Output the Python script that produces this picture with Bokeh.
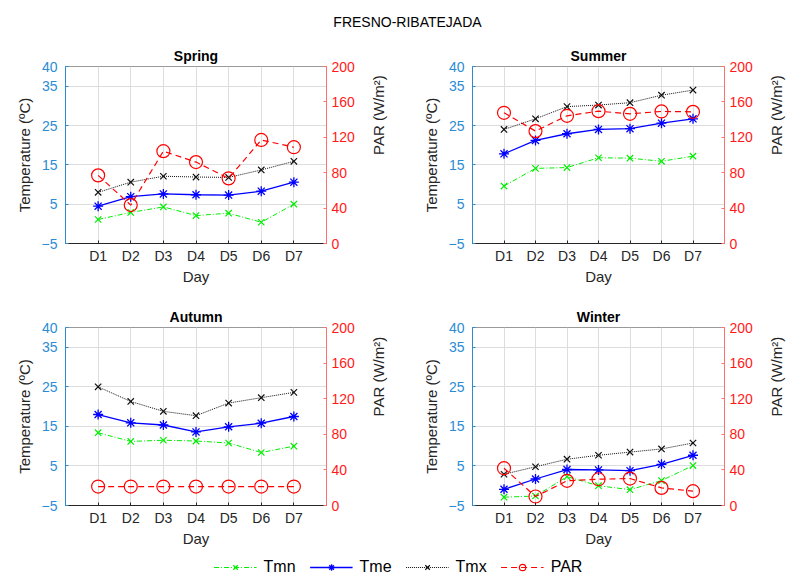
import math
from bokeh.plotting import figure
from bokeh.models import (Range1d, LinearAxis, FixedTicker, Legend, LegendItem, ColumnDataSource, Label)
from bokeh.layouts import column, row
from bokeh.embed import file_html
from bokeh.resources import INLINE

days = ["D1", "D2", "D3", "D4", "D5", "D6", "D7"]
xpos = [1, 2, 3, 4, 5, 6, 7]
seasons = ["Spring", "Summer", "Autumn", "Winter"]

tmn = {
    "Spring": [1.1, 2.9, 4.3, 2.1, 2.7, 0.4, 5.0],
    "Summer": [9.6, 14.1, 14.3, 16.8, 16.7, 15.9, 17.2],
    "Autumn": [13.4, 11.2, 11.5, 11.3, 10.8, 8.4, 10.0],
    "Winter": [-2.9, -2.6, 2.3, 0.0, -1.0, 1.3, 5.1],
}
tme = {
    "Spring": [4.5, 6.9, 7.6, 7.4, 7.3, 8.3, 10.6],
    "Summer": [17.8, 21.2, 22.9, 24.0, 24.2, 25.6, 26.7],
    "Autumn": [18.0, 15.9, 15.35, 13.6, 14.9, 15.8, 17.5],
    "Winter": [-0.9, 1.7, 4.1, 4.0, 3.8, 5.4, 7.7],
}
tmx = {
    "Spring": [8.0, 10.6, 12.1, 11.9, 11.8, 13.7, 15.9],
    "Summer": [24.0, 26.7, 29.8, 30.2, 30.8, 32.7, 34.0],
    "Autumn": [25.0, 21.3, 18.8, 17.7, 20.9, 22.25, 23.6],
    "Winter": [2.9, 4.8, 6.7, 7.7, 8.5, 9.3, 10.8],
}
par = {
    "Spring": [77, 43.4, 104.3, 92, 73.6, 117, 108.8],
    "Summer": [147.7, 127, 144.3, 149.5, 146.5, 149.2, 148.8],
    "Autumn": [21.3, 21.3, 21.3, 21.3, 21.3, 21.3, 21.3],
    "Winter": [41.9, 10.1, 27.7, 29.5, 30.3, 19.8, 16.1],
}
temp_ticks = [-5, 5, 15, 25, 35, 40]
par_ticks = [0, 40, 80, 120, 160, 200]
main_title = "FRESNO-RIBATEJADA"
legend_labels = ["Tmn", "Tme", "Tmx", "PAR"]

FONT = "Liberation Sans"
BLUE_AX = "#2b8cd4"
RED_AX = "#ff1a1a"
GREEN = "#00ee00"
BLUE = "#0000ff"
BLACK = "#111111"
RED = "#ff0000"

# layout geometry (left border, frame width, right border, top border, bottom border, height)
geo = {
    "Spring": (65, 265, 68, 22, 57, 257),
    "Summer": (74, 263, 61, 22, 57, 257),
    "Autumn": (65, 265, 68, 27, 45, 250),
    "Winter": (74, 263, 61, 27, 45, 250),
}

styles = {
    "tmn": dict(line=dict(line_color=GREEN, line_width=1, line_dash="5 2 1 2"),
                mark=dict(marker="x", size=9, line_color=GREEN, line_width=1.2)),
    "tme": dict(line=dict(line_color=BLUE, line_width=1.3),
                mark=dict(marker="asterisk", size=10, line_color=BLUE, line_width=1.3)),
    "tmx": dict(line=dict(line_color=BLACK, line_width=1, line_dash="1 1"),
                mark=dict(marker="x", size=9, line_color=BLACK, line_width=1.2)),
    "par": dict(line=dict(line_color=RED, line_width=1.2, line_dash="6 4"),
                mark=dict(marker="circle", size=13, line_color=RED, fill_color=None, line_width=1.2)),
}


def make_fig(s):
    lb, fw, rb, tb, bb, h = geo[s]
    p = figure(width=lb + fw + rb, height=h, output_backend="svg", toolbar_location=None,
               x_range=Range1d(0, 8), y_range=Range1d(-5, 40),
               min_border_left=lb, min_border_right=rb, min_border_top=tb, min_border_bottom=bb,
               title=s)
    p.title.align = "center"
    p.title.text_font = FONT
    p.title.text_font_size = "14px"
    p.title.text_font_style = "bold"
    p.title.text_color = "#000000"
    p.title.standoff = 5
    p.outline_line_color = "#999999"
    p.outline_line_width = 1
    p.extra_y_ranges = {"par": Range1d(0, 200)}

    # x axis
    xa = p.xaxis[0]
    xa.ticker = FixedTicker(ticks=xpos)
    xa.major_label_overrides = {i: d for i, d in zip(xpos, days)}
    xa.axis_label = "Day"
    xa.axis_label_text_font = FONT
    xa.axis_label_text_font_size = "15px"
    xa.axis_label_text_font_style = "normal"
    xa.axis_label_text_color = "#262626"
    xa.axis_label_standoff = 1
    xa.major_label_text_font = FONT
    xa.major_label_text_font_size = "14px"
    xa.major_label_text_color = "#262626"
    xa.major_label_standoff = 4
    xa.axis_line_color = "#262626"
    xa.major_tick_line_color = "#262626"
    xa.major_tick_in = 3
    xa.major_tick_out = 0
    xa.minor_tick_line_color = None

    # left y axis
    ya = p.yaxis[0]
    ya.ticker = FixedTicker(ticks=temp_ticks)
    ya.major_label_overrides = {-5: "\u22125"}
    ya.axis_label = "Temperature (\u00baC)"
    ya.axis_label_text_font = FONT
    ya.axis_label_text_font_size = "15px"
    ya.axis_label_text_font_style = "normal"
    ya.axis_label_text_color = "#262626"
    ya.axis_label_standoff = 6
    ya.major_label_text_font = FONT
    ya.major_label_text_font_size = "14px"
    ya.major_label_text_color = BLUE_AX
    ya.major_label_standoff = 8
    ya.axis_line_color = BLUE_AX
    ya.major_tick_line_color = BLUE_AX
    ya.major_tick_in = 3
    ya.major_tick_out = 0
    ya.minor_tick_line_color = None

    # right y axis
    ra = LinearAxis(y_range_name="par", ticker=FixedTicker(ticks=par_ticks))
    ra.axis_label = "PAR (W/m\u00b2)"
    ra.axis_label_orientation = math.pi / 2
    ra.axis_label_text_font = FONT
    ra.axis_label_text_font_size = "15px"
    ra.axis_label_text_font_style = "normal"
    ra.axis_label_text_color = "#262626"
    ra.axis_label_standoff = 21
    ra.major_label_text_font = FONT
    ra.major_label_text_font_size = "14px"
    ra.major_label_text_color = RED_AX
    ra.major_label_standoff = 5
    ra.axis_line_color = "#ff7070"
    ra.major_tick_line_color = "#ff7070"
    ra.major_tick_in = 3
    ra.major_tick_out = 0
    ra.minor_tick_line_color = None
    p.add_layout(ra, "right")

    p.xgrid.ticker = FixedTicker(ticks=xpos)
    p.ygrid.ticker = FixedTicker(ticks=temp_ticks)
    for g in (p.xgrid[0], p.ygrid[0]):
        g.grid_line_color = "#dddddd"
        g.grid_line_width = 1

    src = ColumnDataSource(dict(x=xpos, tmn=tmn[s], tme=tme[s], tmx=tmx[s], par=par[s]))
    for key in ["tmn", "tme", "tmx"]:
        p.line("x", key, source=src, **styles[key]["line"])
        p.scatter("x", key, source=src, **styles[key]["mark"])
    p.line("x", "par", source=src, y_range_name="par", **styles["par"]["line"])
    p.scatter("x", "par", source=src, y_range_name="par", **styles["par"]["mark"])
    return p


figs = {s: make_fig(s) for s in seasons}

# header with main title
header = figure(width=796, height=43, output_backend="svg", toolbar_location=None,
                x_range=Range1d(0, 1), y_range=Range1d(0, 1),
                min_border_left=0, min_border_right=0, min_border_top=0, min_border_bottom=0)
header.axis.visible = False
header.grid.visible = False
header.outline_line_color = None
header.add_layout(Label(x=407, y=22, x_units="screen", y_units="screen", text=main_title,
                        text_align="center", text_baseline="middle", text_font=FONT,
                        text_font_size="14px", text_color="#000000"))

# legend
nan = float("nan")
lg = figure(width=796, height=26, output_backend="svg", toolbar_location=None,
            x_range=Range1d(0, 1), y_range=Range1d(0, 1),
            min_border_left=0, min_border_right=0, min_border_top=0, min_border_bottom=0)
lg.axis.visible = False
lg.grid.visible = False
lg.outline_line_color = None
items = []
for key, lab in zip(["tmn", "tme", "tmx", "par"], legend_labels):
    rl = lg.line(x=[nan], y=[nan], **styles[key]["line"])
    rm = lg.scatter(x=[nan], y=[nan], **styles[key]["mark"])
    items.append(LegendItem(label=lab, renderers=[rl, rm]))
legend = Legend(items=items, orientation="horizontal", location="bottom_center")
legend.label_text_font = FONT
legend.label_text_font_size = "16px"
legend.label_text_color = "#000000"
legend.glyph_width = 43
legend.glyph_height = 16
legend.spacing = 14
legend.label_standoff = 7
legend.padding = 0
legend.margin = 0
legend.border_line_color = None
legend.background_fill_alpha = 0
lg.add_layout(legend, "center")

layout = column(header,
                row(figs["Spring"], figs["Summer"]),
                row(figs["Autumn"], figs["Winter"]),
                lg, spacing=0)

open("out.html", "w").write(file_html(layout, INLINE))
